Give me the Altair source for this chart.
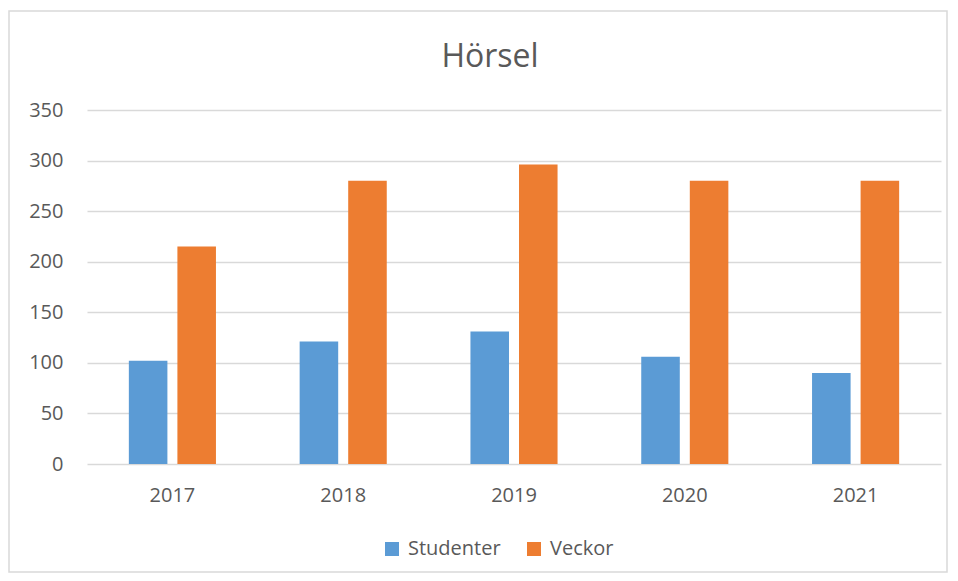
import altair as alt
import pandas as pd

years = ["2017", "2018", "2019", "2020", "2021"]
series_names = ["Studenter", "Veckor"]
studenter = [102, 121, 131, 106, 90]
veckor = [215, 280, 296, 280, 280]
colors = ["#5B9BD5", "#ED7D31"]
title_text = "Hörsel"

rows = []
for i, y in enumerate(years):
    rows.append({"year": y, "series": "Studenter", "value": studenter[i]})
    rows.append({"year": y, "series": "Veckor", "value": veckor[i]})
df = pd.DataFrame(rows)

FONT = "Open Sans"
TXT = "#595959"
GRID = "#d9d9d9"

bars = alt.Chart(df).mark_bar().encode(
    x=alt.X("year:N", sort=years, title=None,
            scale=alt.Scale(paddingInner=0.49, paddingOuter=0.245),
            axis=alt.Axis(labelAngle=0, domain=False, ticks=False,
                          labelPadding=21, labelFontSize=20, labelColor=TXT,
                          labelFont=FONT)),
    xOffset=alt.XOffset("series:N", sort=series_names,
                        scale=alt.Scale(paddingInner=0.206)),
    y=alt.Y("value:Q", title=None,
            scale=alt.Scale(domain=[0, 350], nice=False),
            axis=alt.Axis(values=[0, 50, 100, 150, 200, 250, 300, 350],
                          domain=False, ticks=False, grid=True,
                          gridColor=GRID, gridWidth=1.5,
                          labelPadding=24, labelFontSize=20, labelColor=TXT,
                          labelFont=FONT)),
    color=alt.Color("series:N", sort=series_names,
                    scale=alt.Scale(domain=series_names, range=colors),
                    legend=alt.Legend(title=None, orient="none",
                                      direction="horizontal",
                                      legendX=295, legendY=429,
                                      symbolType="square", symbolSize=196,
                                      symbolStrokeWidth=0,
                                      labelFontSize=20, labelColor=TXT,
                                      labelFont=FONT, labelOffset=6,
                                      columnPadding=23, padding=0)),
)

one = pd.DataFrame({"k": [0]})

border = alt.Chart(one).mark_rect(
    fill=None, stroke=GRID, strokeWidth=1.5
).encode(
    x=alt.value(-78), x2=alt.value(860),
    y=alt.value(-99), y2=alt.value(462),
)

title = alt.Chart(one).mark_text(
    font=FONT, fontSize=32, color=TXT, align="center", baseline="alphabetic"
).encode(
    text=alt.value(title_text), x=alt.value(403), y=alt.value(-43),
)

chart = alt.layer(border, bars, title).properties(
    width=854, height=354,
    padding={"left": 79, "top": 102, "right": 9, "bottom": 109},
    autosize=alt.AutoSizeParams(type="none"),
).configure(background="white").configure_view(stroke=None)

chart.save("out.html", embed_options={"renderer": "svg", "actions": False})
